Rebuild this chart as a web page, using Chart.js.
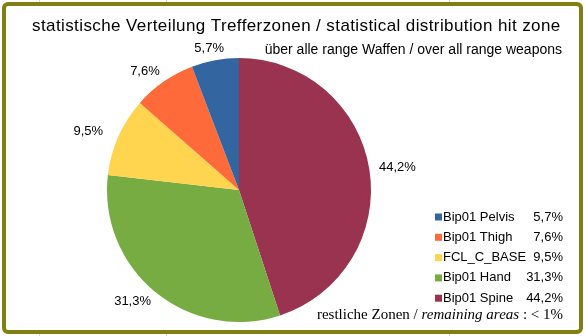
<!DOCTYPE html>
<html>
<head>
<meta charset="utf-8">
<script src="https://cdn.jsdelivr.net/npm/chart.js@4.4.1/dist/chart.umd.min.js"></script>
<style>
  html, body { margin: 0; padding: 0; background: #ffffff; }
  #wrap { position: relative; width: 585px; height: 336px; }
</style>
</head>
<body>
<div id="wrap"><canvas id="pieChart" width="585" height="336"></canvas></div>
<script>
const zoneLabels = ['Bip01 Spine', 'Bip01 Hand', 'FCL_C_BASE', 'Bip01 Thigh', 'Bip01 Pelvis'];
const zoneValues = [44.2, 31.3, 9.5, 7.6, 5.7];
const zoneColors = ['#993350', '#77ac43', '#ffd54f', '#ff6a3a', '#3366a0'];
const titleText = 'statistische Verteilung Trefferzonen / statistical distribution hit zone';
const subtitleText = 'über alle range Waffen / over all range weapons';

const sansFont = '"Liberation Sans", Arial, sans-serif';
const serifFont = '"Liberation Serif", "Times New Roman", serif';

function formatPercent(value) {
  return value.toFixed(1).replace('.', ',') + '%';
}

// frame, sheet grid lines and white plot background
const framePlugin = {
  id: 'frame',
  beforeDraw(chart) {
    const ctx = chart.ctx;
    ctx.save();
    ctx.fillStyle = '#ffffff';
    ctx.fillRect(0, 0, chart.width, chart.height);
    ctx.strokeStyle = '#d9d9d9';
    ctx.lineWidth = 1;
    [39.5, 166.5, 449.5].forEach((x) => {
      ctx.beginPath();
      ctx.moveTo(x, 0);
      ctx.lineTo(x, chart.height);
      ctx.stroke();
    });
    ctx.fillStyle = '#ffffff';
    ctx.fillRect(5, 5, chart.width - 10, chart.height - 10);
    ctx.strokeStyle = '#7f7f12';
    ctx.lineWidth = 4;
    ctx.beginPath();
    ctx.roundRect(4, 4, chart.width - 8, chart.height - 8, 4);
    ctx.stroke();
    ctx.restore();
  },
};

// titles, outside percent labels, legend with values, footnote
const textPlugin = {
  id: 'texts',
  afterDraw(chart) {
    const ctx = chart.ctx;
    ctx.save();
    ctx.fillStyle = '#000000';
    ctx.textBaseline = 'middle';

    ctx.font = '17px ' + sansFont;
    ctx.letterSpacing = '0.4px';
    ctx.textAlign = 'left';
    ctx.fillText(titleText, 32, 26);
    ctx.letterSpacing = '0px';

    ctx.font = '14px ' + sansFont;
    ctx.textAlign = 'right';
    ctx.fillText(subtitleText, 562, 50);

    const meta = chart.getDatasetMeta(0);
    ctx.font = '13px ' + sansFont;
    ctx.textAlign = 'center';
    meta.data.forEach((arc, i) => {
      const mid = (arc.startAngle + arc.endAngle) / 2;
      const dx = Math.cos(mid);
      const dy = Math.sin(mid);
      const text = formatPercent(zoneValues[i]);
      const w = ctx.measureText(text).width;
      const gap = arc.outerRadius + 10;
      const x = arc.x + dx * gap + dx * w / 2 + Math.min(0, dx) * 8;
      const y = arc.y + dy * gap + dy * 2;
      ctx.fillText(text, x, y);
    });

    // legend in reverse order
    const order = zoneLabels.map((_, i) => i).reverse();
    order.forEach((idx, row) => {
      const y = 217 + row * 20.3;
      ctx.fillStyle = zoneColors[idx];
      ctx.fillRect(435, y - 3.5, 7, 7);
      ctx.fillStyle = '#000000';
      ctx.textAlign = 'left';
      ctx.fillText(zoneLabels[idx], 443, y);
      ctx.textAlign = 'right';
      ctx.fillText(formatPercent(zoneValues[idx]), 563, y);
    });

    // footnote, mixed upright and italic serif
    const parts = [
      ['restliche Zonen / ', 'normal'],
      ['remaining areas', 'italic'],
      [' : < 1%', 'normal'],
    ];
    let total = 0;
    parts.forEach(([t, style]) => {
      ctx.font = style + ' 15px ' + serifFont;
      total += ctx.measureText(t).width;
    });
    let x = 563 - total;
    ctx.textAlign = 'left';
    parts.forEach(([t, style]) => {
      ctx.font = style + ' 15px ' + serifFont;
      ctx.fillText(t, x, 315);
      x += ctx.measureText(t).width;
    });
    ctx.restore();
  },
};

new Chart(document.getElementById('pieChart'), {
  type: 'pie',
  data: {
    labels: zoneLabels,
    datasets: [{
      data: zoneValues,
      backgroundColor: zoneColors,
      borderWidth: 0,
    }],
  },
  options: {
    responsive: false,
    animation: false,
    layout: { padding: { top: 58, bottom: 14, left: 107, right: 214 } },
    plugins: {
      legend: { display: false },
      tooltip: { enabled: false },
      title: { display: false },
    },
  },
  plugins: [framePlugin, textPlugin],
});
</script>
</body>
</html>
